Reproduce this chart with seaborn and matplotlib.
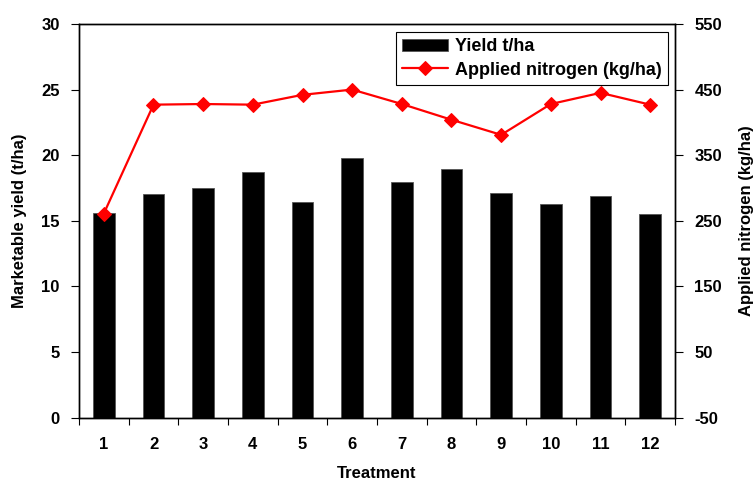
import matplotlib
matplotlib.use("Agg")
import matplotlib.pyplot as plt
import seaborn as sns
import numpy as np
import pandas as pd
from matplotlib.ticker import FixedLocator

treatments = ["1", "2", "3", "4", "5", "6", "7", "8", "9", "10", "11", "12"]
yield_tha = [15.6, 17.05, 17.5, 18.7, 16.4, 19.8, 17.95, 18.95, 17.1, 16.3, 16.9, 15.55]
nitrogen = [261, 427, 428, 427, 442, 450, 428, 404, 381, 428, 445, 427]

sns.set_theme(style="white")
plt.rcParams['font.family'] = ['Liberation Sans', 'DejaVu Sans']
plt.rcParams['font.weight'] = 'bold'
plt.rcParams['axes.unicode_minus'] = False
plt.rcParams['text.color'] = 'black'
plt.rcParams['axes.labelcolor'] = 'black'
plt.rcParams['xtick.color'] = 'black'
plt.rcParams['ytick.color'] = 'black'

df = pd.DataFrame({"Treatment": treatments, "Yield": yield_tha, "N": nitrogen,
                   "pos": np.arange(len(treatments))})

fig = plt.figure(figsize=(7.53, 4.82), dpi=100)
ax = fig.add_axes([79/753, 1-417.5/482, (675-79)/753, (417.5-24)/482])

sns.barplot(data=df, x="Treatment", y="Yield", order=treatments, color="black",
            width=0.44, edgecolor="#555555", linewidth=0.6, saturation=1,
            ax=ax, label="Yield t/ha")
if ax.get_legend() is not None:
    ax.get_legend().remove()
ax.set_xlim(-0.5, 11.5)
ax.set_ylim(0, 30)
ax.set_yticks([0, 5, 10, 15, 20, 25, 30])

ax2 = ax.twinx()
sns.lineplot(data=df, x="pos", y="N", color="#ff0000", marker="D", markersize=7,
             markeredgecolor="#ff0000", linewidth=1.6, ax=ax2,
             label="Applied nitrogen (kg/ha)", legend=False)
ax2.set_ylim(-50, 550)
ax2.set_yticks([-50, 50, 150, 250, 350, 450, 550])
ax2.set_xlim(-0.5, 11.5)

for a in (ax, ax2):
    for s in a.spines.values():
        s.set_color("black")
        s.set_linewidth(1.0)

ax.tick_params(axis="x", which="major", length=0, pad=14, labelsize=12, labelcolor="black")
ax.xaxis.set_minor_locator(FixedLocator(np.arange(-0.5, 12, 1.0)))
ax.tick_params(axis="x", which="minor", length=5, width=0.8, direction="out",
               color="black", bottom=True)
ax.tick_params(axis="y", length=6, width=0.8, direction="out", color="black",
               left=True, labelsize=12, pad=8, labelcolor="black")
ax2.tick_params(axis="y", length=6, width=0.8, direction="out", color="black",
                right=True, labelsize=12, pad=8, labelcolor="black")

for lbl in ax.get_xticklabels() + ax.get_yticklabels() + ax2.get_yticklabels():
    lbl.set_fontweight("bold")

ax.set_xlabel("Treatment", fontsize=12, fontweight="bold", labelpad=10, color="black")
ax.set_ylabel("Marketable yield (t/ha)", fontsize=12, fontweight="bold", labelpad=10, color="black")
ax2.set_ylabel("Applied nitrogen (kg/ha)", fontsize=12, fontweight="bold", labelpad=12, color="black")

h1, l1 = ax.get_legend_handles_labels()
h2, l2 = ax2.get_legend_handles_labels()
leg = ax2.legend(h1 + h2, l1 + l2, loc="upper right", bbox_to_anchor=(0.988, 0.98),
                 borderaxespad=0.0,
                 frameon=True, fancybox=False, edgecolor="black", framealpha=1,
                 prop={"weight": "bold", "size": 13}, handlelength=2.5,
                 borderpad=0.35, labelspacing=0.35, handletextpad=0.4)
leg.get_frame().set_linewidth(0.8)

fig.savefig("out.png", dpi=100)
